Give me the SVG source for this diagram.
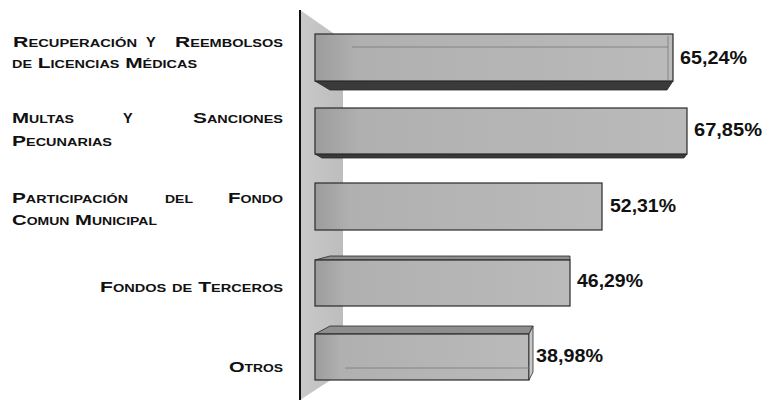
<svg xmlns="http://www.w3.org/2000/svg" width="766" height="400" viewBox="0 0 766 400">
<defs>
<linearGradient id="front" x1="0" y1="0" x2="1" y2="0">
<stop offset="0" stop-color="#9c9c9c"/>
<stop offset="0.12" stop-color="#b0b0b0"/>
<stop offset="1" stop-color="#bababa"/>
</linearGradient>
<linearGradient id="wall" x1="0" y1="0" x2="1" y2="0">
<stop offset="0" stop-color="#c9c9c9"/>
<stop offset="1" stop-color="#bdbdbd"/>
</linearGradient>
</defs>
<style>
.lbl{font-family:"Liberation Sans",Arial,sans-serif;font-weight:bold;font-size:14.5px;font-variant:small-caps;fill:#111}
.val{font-family:"Liberation Sans",Arial,sans-serif;font-weight:bold;font-size:17.5px;fill:#111}
.face{fill:url(#front);stroke:#2a2a2a;stroke-width:1.2}
.bot{fill:#3a3a3a;stroke:#2a2a2a;stroke-width:0.8}
.top{fill:#8e8e8e;stroke:#2a2a2a;stroke-width:0.8}
.side{fill:#c8c8c8;stroke:#2a2a2a;stroke-width:0.8}
.inner{stroke:#7a7a7a;stroke-width:0.8;fill:none}
</style>
<rect width="766" height="400" fill="#ffffff"/>
<g id="wall-axis">
<polygon points="300,10 343,40 343,372 300,400" fill="url(#wall)"/>
<line x1="300" y1="10" x2="300" y2="400" stroke="#111" stroke-width="2"/>
</g>
<g id="labels">
<g id="label-1">
<text class="lbl" x="13" y="47" textLength="124" lengthAdjust="spacingAndGlyphs">Recuperación</text>
<text class="lbl" x="146" y="47">Y</text>
<text class="lbl" x="175" y="47" textLength="108" lengthAdjust="spacingAndGlyphs">Reembolsos</text>
<text class="lbl" x="12" y="68" textLength="185" lengthAdjust="spacingAndGlyphs">de Licencias Médicas</text>
</g>
<g id="label-2">
<text class="lbl" x="12" y="123" textLength="62" lengthAdjust="spacingAndGlyphs">Multas</text>
<text class="lbl" x="123" y="123">Y</text>
<text class="lbl" x="193" y="123" textLength="90" lengthAdjust="spacingAndGlyphs">Sanciones</text>
<text class="lbl" x="12" y="146" textLength="100" lengthAdjust="spacingAndGlyphs">Pecunarias</text>
</g>
<g id="label-3">
<text class="lbl" x="12" y="203" textLength="116" lengthAdjust="spacingAndGlyphs">Participación</text>
<text class="lbl" x="165" y="203" textLength="28" lengthAdjust="spacingAndGlyphs">del</text>
<text class="lbl" x="228" y="203" textLength="55" lengthAdjust="spacingAndGlyphs">Fondo</text>
<text class="lbl" x="12" y="225" textLength="145" lengthAdjust="spacingAndGlyphs">Comun Municipal</text>
</g>
<g id="label-4">
<text class="lbl" x="100" y="292" textLength="183" lengthAdjust="spacingAndGlyphs">Fondos de Terceros</text>
</g>
<g id="label-5">
<text class="lbl" x="229" y="372" textLength="54" lengthAdjust="spacingAndGlyphs">Otros</text>
</g>
</g>
<g id="bar-1">
<polygon class="bot" points="315,81 673,81 667,90 330,90"/>
<rect class="face" x="315" y="34" width="358" height="47"/>
<line class="inner" x1="352" y1="47" x2="668" y2="47"/>
<line class="inner" x1="668" y1="36" x2="668" y2="80"/>
<text class="val" x="680" y="64" textLength="67" lengthAdjust="spacingAndGlyphs">65,24%</text>
</g>
<g id="bar-2">
<polygon class="bot" points="315,154 687,154 684,158 322,158"/>
<rect class="face" x="315" y="108" width="372" height="46"/>
<text class="val" x="694" y="136" textLength="68" lengthAdjust="spacingAndGlyphs">67,85%</text>
</g>
<g id="bar-3">
<rect class="face" x="315" y="183" width="287" height="47"/>
<text class="val" x="610" y="212" textLength="66" lengthAdjust="spacingAndGlyphs">52,31%</text>
</g>
<g id="bar-4">
<polygon class="top" points="315,260 330,256 570,256 570,260"/>
<rect class="face" x="315" y="260" width="255" height="46"/>
<text class="val" x="577" y="287" textLength="66" lengthAdjust="spacingAndGlyphs">46,29%</text>
</g>
<g id="bar-5">
<polygon class="top" points="315,334 330,326 533,326 529,334"/>
<rect class="face" x="315" y="334" width="214" height="46"/>
<polygon class="side" points="529,334 533,326 533,372 529,380"/>
<line class="inner" x1="345" y1="368" x2="529" y2="368"/>
<text class="val" x="536" y="362" textLength="67" lengthAdjust="spacingAndGlyphs">38,98%</text>
</g>
</svg>
